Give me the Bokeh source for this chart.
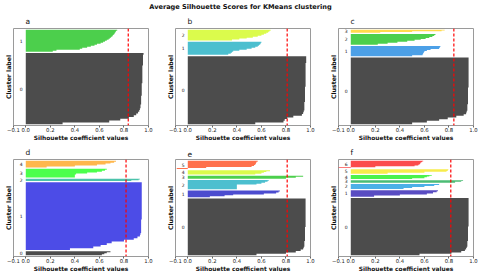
import numpy as np
from bokeh.plotting import figure
from bokeh.layouts import column, row
from bokeh.models import Range1d, Span, FixedTicker, CustomJSTickFormatter
from bokeh.core.properties import value
from bokeh.embed import file_html
from bokeh.resources import INLINE

TITLE = "Average Silhouette Scores for KMeans clustering"
X_TICKS = [-0.1, 0.0, 0.2, 0.4, 0.6, 0.8, 1.0]
GAP = 10  # samples between cluster bands

# ---- data: cluster sizes (cluster 0 first) ----
sizes_a = [535, 165]
sizes_b = [519, 99, 82]
sizes_c = [516, 79, 82, 23]
sizes_d = [31, 530, 18, 69, 52]
sizes_e = [450, 54, 74, 23, 33, 66]
sizes_f = [462, 53, 40, 20, 33, 36, 58]

# ---- data: sorted silhouette values per cluster (ascending) ----
sil_a = [
    [0.30, 0.68, 0.77, 0.84, 0.88, 0.90, 0.915, 0.925, 0.93, 0.935,
     0.935, 0.94, 0.94, 0.94, 0.94, 0.94, 0.945, 0.945, 0.945, 0.945,
     0.945, 0.945, 0.945, 0.95, 0.95, 0.95, 0.95, 0.95, 0.95, 0.95,
     0.95, 0.95, 0.95, 0.955, 0.955, 0.955, 0.955, 0.955, 0.955, 0.96],
    [0.22, 0.25, 0.44, 0.46, 0.50, 0.53, 0.56, 0.58, 0.61, 0.63, 0.645,
     0.66, 0.675, 0.685, 0.695, 0.705, 0.71, 0.72, 0.725, 0.73, 0.735, 0.745],
]
sil_b = [
    [0.55, 0.78, 0.79, 0.81, 0.86, 0.93, 0.94, 0.945, 0.95, 0.95,
     0.95, 0.95, 0.95, 0.955, 0.955, 0.955, 0.955, 0.955, 0.955, 0.955,
     0.955, 0.955, 0.96, 0.96, 0.96, 0.96, 0.96, 0.96, 0.96, 0.96,
     0.96, 0.96, 0.96, 0.96, 0.96, 0.96, 0.965, 0.965, 0.965, 0.965],
    [0.33, 0.35, 0.36, 0.37, 0.42, 0.48, 0.52, 0.55, 0.57, 0.58, 0.59, 0.595, 0.60],
    [0.36, 0.42, 0.48, 0.53, 0.57, 0.60, 0.62, 0.64, 0.655, 0.665, 0.675],
]
sil_c = [
    [0.50, 0.62, 0.72, 0.79, 0.86, 0.92, 0.94, 0.945, 0.95, 0.95,
     0.95, 0.95, 0.955, 0.955, 0.955, 0.955, 0.955, 0.955, 0.955, 0.955,
     0.955, 0.955, 0.96, 0.96, 0.96, 0.96, 0.96, 0.96, 0.96, 0.96,
     0.96, 0.96, 0.96, 0.96, 0.96, 0.96, 0.96, 0.96, 0.96, 0.96],
    [0.50, 0.585, 0.59, 0.595, 0.60, 0.62, 0.65, 0.72, 0.725, 0.73],
    [0.22, 0.30, 0.38, 0.46, 0.52, 0.57, 0.61, 0.64, 0.665, 0.68, 0.69],
    [0.24, 0.50, 0.74, 0.765],
]
sil_d = [
    [0.62, 0.64, 0.66, 0.69],
    [0.36, 0.55, 0.61, 0.66, 0.70, 0.80, 0.88, 0.91, 0.93, 0.935,
     0.94, 0.94, 0.94, 0.94, 0.94, 0.94, 0.94, 0.94, 0.945, 0.945,
     0.945, 0.945, 0.945, 0.945, 0.945, 0.945, 0.945, 0.945, 0.945, 0.945,
     0.945, 0.945, 0.945, 0.945, 0.945, 0.945, 0.945, 0.945, 0.945, 0.945],
    [0.86, 0.92, 0.93],
    [0.40, 0.40, 0.40, 0.41, 0.50, 0.58, 0.62, 0.645, 0.66],
    [0.17, 0.40, 0.58, 0.65, 0.69, 0.72, 0.735],
]
sil_e = [
    [0.56, 0.80, 0.88, 0.92, 0.94, 0.945, 0.95, 0.95, 0.95, 0.95,
     0.955, 0.955, 0.955, 0.955, 0.955, 0.955, 0.955, 0.955, 0.955, 0.955,
     0.96, 0.96, 0.96, 0.96, 0.96, 0.96, 0.96, 0.96, 0.96, 0.96,
     0.96, 0.96, 0.96, 0.96, 0.96, 0.96, 0.96, 0.96, 0.96, 0.96],
    [0.18, 0.30, 0.37, 0.62, 0.72, 0.74, 0.75],
    [0.40, 0.40, 0.40, 0.40, 0.40, 0.56, 0.60, 0.63, 0.65, 0.66],
    [0.80, 0.88, 0.94],
    [0.55, 0.60, 0.62, 0.64, 0.67],
    [-0.09, 0.15, 0.52, 0.54, 0.55, 0.555, 0.56, 0.57],
]
sil_f = [
    [0.56, 0.82, 0.90, 0.93, 0.94, 0.945, 0.95, 0.95, 0.95, 0.95,
     0.955, 0.955, 0.955, 0.955, 0.955, 0.955, 0.955, 0.955, 0.955, 0.955,
     0.96, 0.96, 0.96, 0.96, 0.96, 0.96, 0.96, 0.96, 0.96, 0.96,
     0.96, 0.96, 0.96, 0.96, 0.96, 0.96, 0.96, 0.96, 0.96, 0.96],
    [0.19, 0.40, 0.62, 0.67, 0.70, 0.71],
    [0.43, 0.50, 0.60, 0.68, 0.72],
    [0.85, 0.90, 0.915],
    [0.50, 0.60, 0.62, 0.64, 0.66],
    [0.30, 0.60, 0.78, 0.79, 0.795],
    [-0.10, 0.20, 0.52, 0.55, 0.56, 0.565, 0.57, 0.58, 0.59],
]

# ---- data: average silhouette score per panel ----
avg_scores = [0.835, 0.81, 0.84, 0.817, 0.81, 0.815]
letters = ["a", "b", "c", "d", "e", "f"]

# ---- nipy_spectral colormap (matplotlib) ----
_NS_R = [0.0, 0.4667, 0.5333, 0, 0, 0, 0, 0, 0, 0, 0, 0, 0, 0.7333, 0.9333, 1, 1, 1, 0.8667, 0.8, 0.8]
_NS_G = [0, 0, 0, 0, 0, 0.4667, 0.6, 0.6667, 0.6667, 0.6, 0.7333, 0.8667, 1, 1, 0.9333, 0.8, 0.6, 0, 0, 0, 0.8]
_NS_B = [0, 0.5333, 0.6, 0.6667, 0.8667, 0.8667, 0.8667, 0.6667, 0.5333, 0, 0, 0, 0, 0, 0, 0, 0, 0, 0, 0, 0.8]
_NS_X = np.linspace(0, 1, 21)


def nipy(t):
    r = np.interp(t, _NS_X, _NS_R)
    g = np.interp(t, _NS_X, _NS_G)
    b = np.interp(t, _NS_X, _NS_B)
    return "#%02x%02x%02x" % (int(round(r * 255)), int(round(g * 255)), int(round(b * 255)))


FONT = "DejaVu Sans"
FRAME_W = 135
FRAME_H = 97


def make_panel(letter, sizes, sils, avg, bl, br, bt, bb, title_standoff):
    k = len(sizes)
    ytop = sum(sizes) + (k + 1) * GAP
    p = figure(frame_width=FRAME_W, frame_height=FRAME_H, x_range=Range1d(-0.1, 1.0),
               y_range=Range1d(0, ytop), output_backend="svg",
               toolbar_location=None, min_border_left=bl, min_border_right=br,
               min_border_top=bt, min_border_bottom=bb, title=letter)
    p.background_fill_color = "white"
    p.border_fill_color = "white"
    p.outline_line_color = "#9a9a9a"
    p.outline_line_width = 1
    p.xgrid.visible = False
    p.ygrid.visible = False

    p.title.align = "left"
    p.title.offset = 12
    p.title.standoff = title_standoff
    p.title.text_font = FONT
    p.title.text_font_size = "7.5px"
    p.title.text_font_style = "normal"
    p.title.text_color = "#111111"

    y_lower = GAP
    for i, (s, vals) in enumerate(zip(sizes, sils)):
        m = len(vals)
        h = s / m
        xs = [0.0]
        ys = [y_lower]
        for j, v in enumerate(vals):
            xs += [v, v]
            ys += [y_lower + j * h, y_lower + (j + 1) * h]
        xs.append(0.0)
        ys.append(y_lower + s)
        p.patch(xs, ys, fill_color=nipy(i / k), fill_alpha=0.7, line_color=None)
        p.text(x=[-0.05], y=[y_lower + 0.5 * s], text=[str(i)],
               text_font=value(FONT), text_font_size="4.5px",
               text_baseline="alphabetic", text_align="left", text_color="#111111")
        y_lower += s + GAP

    p.add_layout(Span(location=avg, dimension="height", line_color="#ff0000",
                      line_dash="3 2", line_width=1.2))

    xa = p.xaxis[0]
    xa.ticker = FixedTicker(ticks=X_TICKS)
    xa.formatter = CustomJSTickFormatter(
        code="return (tick < 0 ? '\\u2212' : '') + Math.abs(tick).toFixed(1);")
    xa.axis_line_color = None
    xa.major_tick_out = 2
    xa.major_tick_in = 0
    xa.major_tick_line_color = "#666666"
    xa.minor_tick_line_color = None
    xa.major_label_standoff = 0
    xa.major_label_text_font = FONT
    xa.major_label_text_font_size = "5.3px"
    xa.major_label_text_color = "#222222"
    xa.axis_label = "Silhouette coefficient values"
    xa.axis_label_text_font = FONT
    xa.axis_label_text_font_size = "5.9px"
    xa.axis_label_text_font_style = "bold"
    xa.axis_label_text_color = "#111111"
    xa.axis_label_standoff = 0

    ya = p.yaxis[0]
    ya.ticker = FixedTicker(ticks=[])
    ya.axis_line_color = None
    ya.major_tick_out = 0
    ya.major_tick_in = 0
    ya.minor_tick_line_color = None
    ya.major_label_standoff = 0
    ya.axis_label = "Cluster label"
    ya.axis_label_text_font = FONT
    ya.axis_label_text_font_size = "6.2px"
    ya.axis_label_text_font_style = "bold"
    ya.axis_label_text_color = "#111111"
    ya.axis_label_standoff = 2
    return p


# title strip
t = figure(frame_width=480, frame_height=1, x_range=Range1d(0, 1), y_range=Range1d(0, 1),
           output_backend="svg", toolbar_location=None, min_border=0,
           min_border_top=11, x_axis_type=None, y_axis_type=None, title=TITLE)
t.outline_line_color = None
t.title.align = "center"
t.title.standoff = 1
t.title.text_font = FONT
t.title.text_font_size = "6.6px"
t.title.text_font_style = "bold"
t.title.text_color = "#111111"

all_sizes = [sizes_a, sizes_b, sizes_c, sizes_d, sizes_e, sizes_f]
all_sils = [sil_a, sil_b, sil_c, sil_d, sil_e, sil_f]

# (left border, right border) per column -> frames at x 13, 175, 338
col_specs = [(13, 13), (14, 13), (15, 7)]
# (top border, bottom border, title standoff) per row -> frames at y 26, 157
row_specs = [(14, 16, 5), (16, 18, 5)]

rows = []
for r in range(2):
    bt, bb, tsd = row_specs[r]
    figs = []
    for c in range(3):
        idx = r * 3 + c
        bl, br = col_specs[c]
        figs.append(make_panel(letters[idx], all_sizes[idx], all_sils[idx],
                               avg_scores[idx], bl, br, bt, bb, tsd))
    rows.append(row(*figs))

layout = column(t, rows[0], rows[1])

open("out.html", "w", encoding="utf-8").write(file_html(layout, INLINE))
